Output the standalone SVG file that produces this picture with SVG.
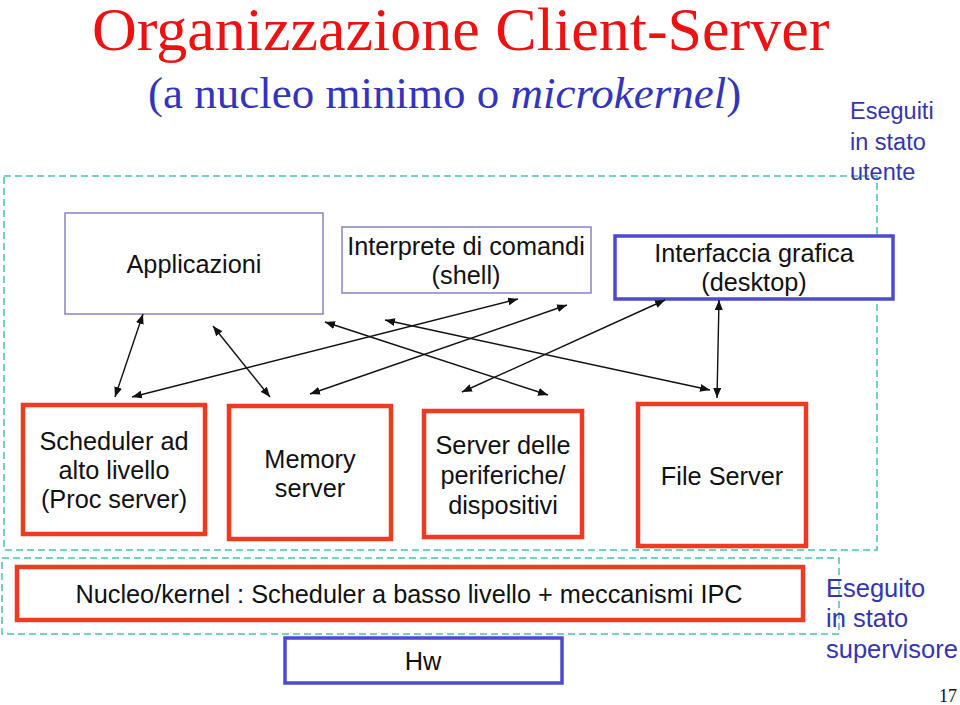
<svg xmlns="http://www.w3.org/2000/svg" width="960" height="705" viewBox="0 0 960 705">
<style>
.sans{font-family:"Liberation Sans",Arial,Helvetica,sans-serif;font-size:25.3px;fill:#111;text-anchor:middle}
.note{font-family:"Liberation Sans",Arial,Helvetica,sans-serif;fill:#3535b0}
.nu{font-size:23.5px}
.ns{font-size:25.5px}
.serif{font-family:"Liberation Serif","Times New Roman",serif}
.dash{fill:none;stroke:#45c2b0;stroke-width:1.5;stroke-dasharray:7 4}
.red{fill:#fff;stroke:#ef3a22;stroke-width:4.5}
.thin{fill:#fff;stroke:#8585c2;stroke-width:1.5}
.blue{fill:#fff;stroke:#4a4ad2;stroke-width:3.5}
.conn line{stroke:#111;stroke-width:1.4;marker-start:url(#ah);marker-end:url(#ah)}
</style>
<defs>
<marker id="ah" viewBox="0 0 10 8" refX="10" refY="4" markerWidth="10" markerHeight="8" markerUnits="userSpaceOnUse" orient="auto-start-reverse">
<path d="M0,0 L10,4 L0,8 Z" fill="#111"/>
</marker>
</defs>
<rect width="960" height="705" fill="#fff"/>
<text x="92" y="50" class="serif" font-size="62" fill="#ee1111">Organizzazione Client-Server</text>
<text x="148" y="108" class="serif" font-size="45" fill="#3333bb">(a nucleo minimo o <tspan font-style="italic">microkernel</tspan>)</text>
<rect x="4" y="176" width="873" height="374" class="dash"/>
<rect x="2" y="558" width="837" height="76" class="dash"/>
<g id="note-utente">
<text class="note nu" x="850" y="119">Eseguiti</text>
<text class="note nu" x="850" y="150">in stato</text>
<text class="note nu" x="850" y="180">utente</text>
</g>
<g id="applicazioni">
<rect x="65" y="213" width="258" height="101" class="thin"/>
<text class="sans" x="194" y="273">Applicazioni</text>
</g>
<g id="shell">
<rect x="342" y="227" width="249" height="66" class="thin"/>
<text class="sans" x="466" y="255">Interprete di comandi</text>
<text class="sans" x="466" y="284">(shell)</text>
</g>
<g id="desktop">
<rect x="615" y="236" width="278" height="63" class="blue"/>
<text class="sans" x="754" y="262">Interfaccia grafica</text>
<text class="sans" x="754" y="291">(desktop)</text>
</g>
<g id="scheduler">
<rect x="23" y="405" width="182" height="129" class="red"/>
<text class="sans" x="114" y="450">Scheduler ad</text>
<text class="sans" x="114" y="479">alto livello</text>
<text class="sans" x="114" y="508">(Proc server)</text>
</g>
<g id="memory">
<rect x="229" y="406" width="162" height="133" class="red"/>
<text class="sans" x="310" y="468">Memory</text>
<text class="sans" x="310" y="497">server</text>
</g>
<g id="periferiche">
<rect x="424" y="411" width="158" height="126" class="red"/>
<text class="sans" x="503" y="454">Server delle</text>
<text class="sans" x="503" y="484">periferiche/</text>
<text class="sans" x="503" y="514">dispositivi</text>
</g>
<g id="fileserver">
<rect x="638" y="404" width="168" height="142" class="red"/>
<text class="sans" x="722" y="485">File Server</text>
</g>
<g id="nucleo">
<rect x="17" y="567" width="786" height="53" class="red"/>
<text class="sans" x="409" y="603">Nucleo/kernel : Scheduler a basso livello + meccanismi IPC</text>
</g>
<g id="hw">
<rect x="285" y="638" width="277" height="45" class="blue"/>
<text class="sans" x="423" y="670">Hw</text>
</g>
<g id="note-supervisore">
<text class="note ns" x="826" y="597">Eseguito</text>
<text class="note ns" x="826" y="627">in stato</text>
<text class="note ns" x="826" y="658">supervisore</text>
</g>
<text x="957" y="702" class="serif" font-size="18" fill="#111" text-anchor="end">17</text>
<g class="conn" id="connectors">
<line x1="143" y1="314" x2="115" y2="397"/>
<line x1="213" y1="326" x2="270" y2="397"/>
<line x1="132" y1="397" x2="518" y2="299"/>
<line x1="310" y1="394" x2="567" y2="305"/>
<line x1="325" y1="322" x2="548" y2="395"/>
<line x1="385" y1="320" x2="710" y2="390"/>
<line x1="462" y1="392" x2="665" y2="300"/>
<line x1="719" y1="300" x2="717" y2="398"/>
</g>
</svg>
